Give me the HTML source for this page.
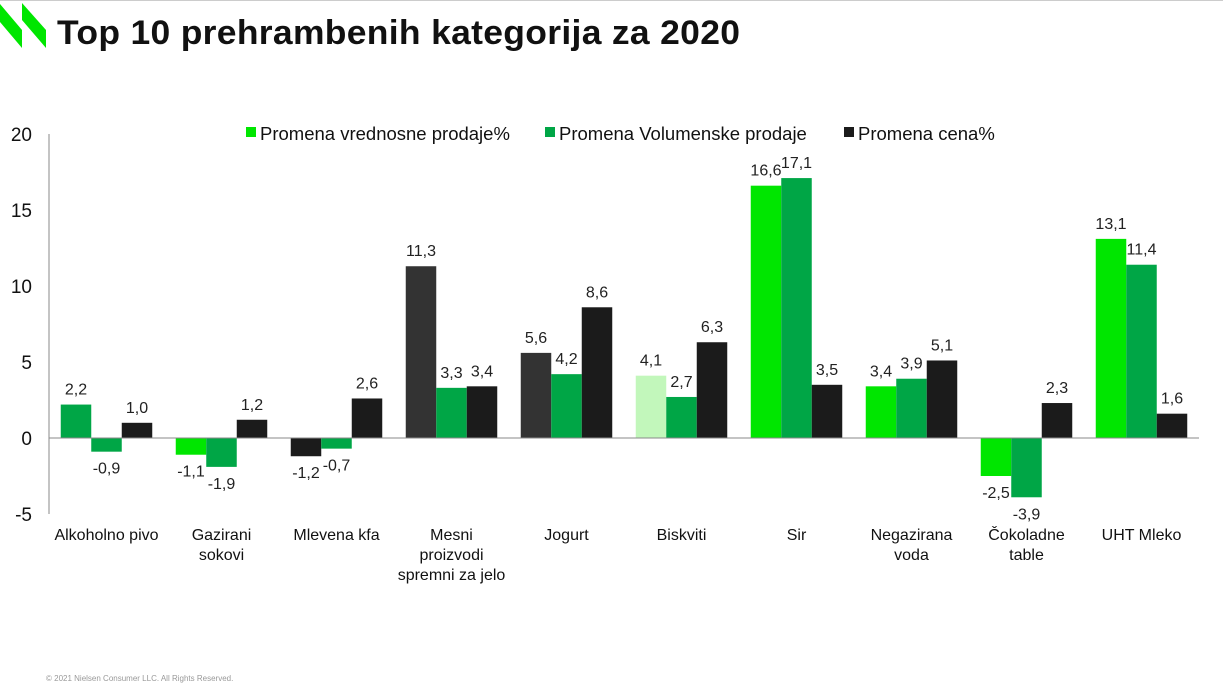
<!DOCTYPE html>
<html><head><meta charset="utf-8"><style>
body{margin:0;width:1223px;height:689px;background:#fff;overflow:hidden;font-family:"Liberation Sans",sans-serif;position:relative}
#topline{position:absolute;left:0;top:0;width:1223px;height:1px;background:#ccc}
#title{position:absolute;left:57px;top:14px;font-size:34px;font-weight:bold;color:#111;letter-spacing:0.3px;transform:scaleX(1.043);transform-origin:0 0;white-space:nowrap}
#copy{position:absolute;left:46px;top:674px;font-size:8px;color:#999}
svg{position:absolute;left:0;top:0}
</style></head><body>
<div id="topline"></div>
<svg width="60" height="60">
<polygon points="0,4 0,22 22,48 22,30" fill="#00e600"/>
<polygon points="22,3 22,20 46,48 46,30" fill="#00e600"/>
</svg>
<div id="title">Top 10 prehrambenih kategorija za 2020</div>
<svg id="chart" width="1223" height="689"></svg>
<div id="copy">© 2021 Nielsen Consumer LLC. All Rights Reserved.</div>
<script>
const categories=[["Alkoholno pivo"],["Gazirani","sokovi"],["Mlevena kfa"],["Mesni","proizvodi","spremni za jelo"],["Jogurt"],["Biskviti"],["Sir"],["Negazirana","voda"],["Čokoladne","table"],["UHT Mleko"]];
const seriesNames=["Promena vrednosne prodaje%","Promena Volumenske prodaje","Promena cena%"];
const valueSales=[2.2,-1.1,-1.2,11.3,5.6,4.1,16.6,3.4,-2.5,13.1];
const volumeSales=[-0.9,-1.9,-0.7,3.3,4.2,2.7,17.1,3.9,-3.9,11.4];
const priceChange=[1.0,1.2,2.6,3.4,8.6,6.3,3.5,5.1,2.3,1.6];
const yTicks=[20,15,10,5,0,-5];
const series=[valueSales,volumeSales,priceChange];
const c1=["#00a646","#00e600","#1b1b1b","#333333","#333333","#c2f7bb","#00e600","#00e600","#00e600","#00e600"];
const seriesColors=["#00e600","#00a646","#1b1b1b"];
const svg=document.getElementById('chart');
const NS="http://www.w3.org/2000/svg";
const x0=49,plotW=1150,y0=438,k=15.2;
const y=v=>y0-v*k;
const band=plotW/categories.length;
function mk(t,a){const e=document.createElementNS(NS,t);for(const q in a)e.setAttribute(q,a[q]);svg.appendChild(e);return e;}
yTicks.forEach(t=>{const e=mk('text',{x:32,y:y(t)+7,'text-anchor':'end','font-size':19,fill:'#111'});e.textContent=t;

});
const ax=mk('line',{x1:x0,x2:x0,y1:y(20),y2:y(-5),stroke:'#888','stroke-width':1});


const bw=30.5;
categories.forEach((c,i)=>{
 const cx=x0+band*(i+0.5);
 series.forEach((s,j)=>{
  const v=s[i];const bx=cx-bw*1.5+j*bw;
  const col=j==0?c1[i]:seriesColors[j];
  const r=mk('rect',{x:bx,y:Math.min(y(v),y0),width:bw,height:Math.abs(v)*k,fill:col});
  
  
  const ly=v>=0?y(v)-10:y(v)+22;
  const t=mk('text',{x:bx+bw/2,y:ly,'text-anchor':'middle','font-size':16,fill:'#222'});
  t.textContent=v.toFixed(1).replace('.',',');
  
  
 });
 c.forEach((ln,m)=>{const t=mk('text',{x:cx,y:540+m*20,'text-anchor':'middle','font-size':16,fill:'#111'});t.textContent=ln;
 
 });
});
const zl=mk('line',{x1:x0,x2:x0+plotW,y1:y0,y2:y0,stroke:'#888','stroke-width':1});


let lx=246;const lw=[299,299,0];
seriesNames.forEach((n,j)=>{
 const r=mk('rect',{x:lx,y:127,width:10,height:10,fill:seriesColors[j]});
 
 
 const t=mk('text',{x:lx+14,y:140,'font-size':18.5,fill:'#111'});t.textContent=n;
 
 
 lx+=lw[j];
});
</script>
</body></html>
